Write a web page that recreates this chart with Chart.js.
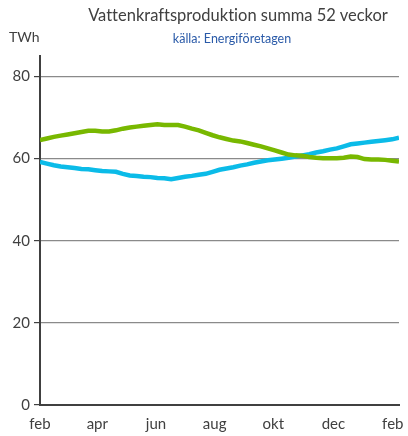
<!DOCTYPE html>
<html>
<head>
<meta charset="utf-8">
<script src="https://cdn.jsdelivr.net/npm/chart.js@4/dist/chart.umd.min.js"></script>
<style>
  body { margin: 0; background: #fff; }
  #wrap { position: relative; width: 408px; height: 436px; font-family: Lato, sans-serif; font-variant-ligatures: none; }
  #title { position: absolute; left: 0; width: 476px; top: 5px; text-align: center; font-size: 16.5px; color: #404040; }
  #sub { position: absolute; left: 0; width: 464px; top: 31px; text-align: center; font-size: 12.5px; color: #2a5aa8; }
  #unit { position: absolute; left: 9px; top: 28px; font-size: 14px; color: #404040; }
  canvas { position: absolute; left: 0; top: 0; }
</style>
</head>
<body>
<div id="wrap">
  <canvas id="hydroChart" width="408" height="436"></canvas>
  <div id="title">Vattenkraftsproduktion summa 52 veckor</div>
  <div id="sub">källa: Energiföretagen</div>
  <div id="unit">TWh</div>
</div>
<script>
  // weekly values, feb -> feb
  const weeks = [0,1,2,3,4,5,6,7,8,9,10,11,12,13,14,15,16,17,18,19,20,21,22,23,24,25,26,
    27,28,29,30,31,32,33,34,35,36,37,38,39,40,41,42,43,44,45,46,47,48,49,50,51,52];
  const greenSeries = [64.5,64.9,65.3,65.6,65.9,66.2,66.5,66.8,66.8,66.6,66.6,66.9,67.3,67.6,
    67.8,68.0,68.2,68.4,68.2,68.2,68.2,67.8,67.3,66.9,66.3,65.7,65.2,64.8,64.4,64.2,63.8,
    63.4,63.0,62.5,62.0,61.5,61.0,60.8,60.7,60.4,60.2,60.1,60.1,60.1,60.2,60.5,60.4,59.9,
    59.8,59.8,59.7,59.5,59.3];
  const blueSeries = [59.2,58.8,58.4,58.1,57.9,57.7,57.5,57.4,57.2,57.0,56.9,56.8,56.3,55.9,
    55.8,55.6,55.5,55.3,55.2,55.0,55.3,55.6,55.8,56.1,56.3,56.8,57.3,57.6,57.9,58.3,58.6,
    59.0,59.3,59.6,59.8,60.0,60.2,60.5,60.8,61.1,61.5,61.8,62.2,62.5,63.0,63.5,63.7,63.9,
    64.1,64.3,64.5,64.7,65.1];
  const monthLabels = ['feb', 'apr', 'jun', 'aug', 'okt', 'dec', 'feb'];
  const monthWeeks = [0, 8.3, 16.8, 25.3, 33.8, 42.5, 51.1];
  const yTicks = [0, 20, 40, 60, 80];

  new Chart(document.getElementById('hydroChart'), {
    type: 'line',
    data: {
      datasets: [{
        label: 'grön',
        data: weeks.map((w, i) => ({ x: w, y: greenSeries[i] })),
        borderColor: '#78b800',
        borderWidth: 4.5,
        pointRadius: 0,
        tension: 0
      }, {
        label: 'blå',
        data: weeks.map((w, i) => ({ x: w, y: blueSeries[i] })),
        borderColor: '#0bbbe8',
        borderWidth: 4.5,
        pointRadius: 0,
        tension: 0
      }]
    },
    options: {
      responsive: false,
      animation: false,
      layout: { padding: { top: 56, right: 9, left: 0, bottom: 0 } },
      plugins: { legend: { display: false }, tooltip: { enabled: false } },
      scales: {
        x: {
          type: 'linear',
          min: 0,
          max: 52,
          afterBuildTicks: axis => { axis.ticks = monthWeeks.map(v => ({ value: v })); },
          afterFit: axis => { axis.height = 31; axis.paddingRight = 0; axis.paddingLeft = 0; },
          ticks: {
            autoSkip: false,
            maxRotation: 0,
            padding: 2,
            color: '#404040',
            font: { family: 'Lato', size: 15 },
            callback: (v, i) => monthLabels[i]
          },
          grid: { display: false },
          border: { display: true, color: '#404040', width: 2 }
        },
        y: {
          min: 0,
          max: 85,
          afterBuildTicks: axis => { axis.ticks = yTicks.map(v => ({ value: v })); },
          afterFit: axis => { axis.width = 40; },
          ticks: {
            padding: 4,
            color: '#404040',
            font: { family: 'Lato', size: 15 }
          },
          grid: { color: '#8a8a8a', tickColor: '#404040', tickLength: 6, lineWidth: 1.2 },
          border: { display: true, color: '#404040', width: 2 }
        }
      }
    }
  });
</script>
</body>
</html>
